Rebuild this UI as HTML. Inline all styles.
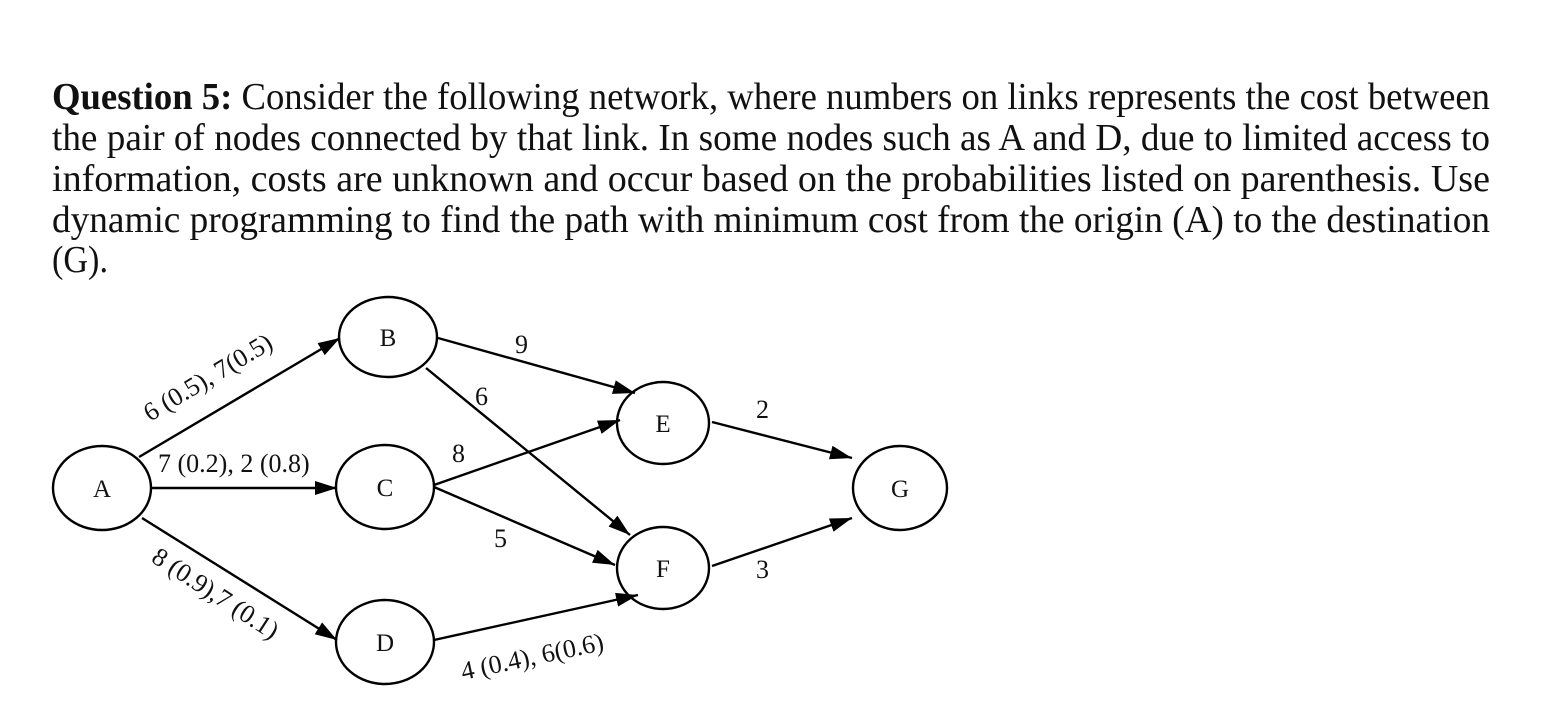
<!DOCTYPE html>
<html><head><meta charset="utf-8"><style>
html,body{margin:0;padding:0;background:#fff;}
svg{display:block;}
text{font-family:"Liberation Serif",serif;fill:#111;}
</style></head><body>
<svg width="1542" height="722" viewBox="0 0 1542 722" xmlns="http://www.w3.org/2000/svg">
<defs>
<marker id="a" viewBox="0 0 10 10" refX="10" refY="5" markerWidth="22" markerHeight="14" orient="auto" markerUnits="userSpaceOnUse" preserveAspectRatio="none">
<path d="M0,0 L10,5 L0,10 z" fill="#000"/>
</marker>
</defs>
<g font-size="38">
<text x="52" y="109" textLength="1438" lengthAdjust="spacingAndGlyphs"><tspan font-weight="bold">Question 5:</tspan> Consider the following network, where numbers on links represents the cost between</text>
<text x="52" y="150" textLength="1438" lengthAdjust="spacingAndGlyphs">the pair of nodes connected by that link. In some nodes such as A and D, due to limited access to</text>
<text x="52" y="191" textLength="1438" lengthAdjust="spacingAndGlyphs">information, costs are unknown and occur based on the probabilities listed on parenthesis.  Use</text>
<text x="52" y="232" textLength="1438" lengthAdjust="spacingAndGlyphs">dynamic programming to find the path with minimum cost from the origin (A) to the destination</text>
<text x="52" y="272" textLength="56" lengthAdjust="spacingAndGlyphs">(G).</text>
</g>
<g fill="none" stroke="#000" stroke-width="2.4">
<ellipse cx="102" cy="488" rx="49" ry="42"/>
<ellipse cx="388" cy="337" rx="49" ry="40"/>
<ellipse cx="385" cy="487" rx="49" ry="42"/>
<ellipse cx="385" cy="642" rx="49" ry="42"/>
<ellipse cx="663" cy="423" rx="46" ry="41"/>
<ellipse cx="663" cy="568" rx="46" ry="41"/>
<ellipse cx="900" cy="488" rx="47" ry="42"/>
</g>
<g stroke="#000" stroke-width="2.4" marker-end="url(#a)">
<line x1="139" y1="457" x2="340" y2="338"/>
<line x1="152" y1="488" x2="337" y2="488"/>
<line x1="142" y1="518" x2="337" y2="640"/>
<line x1="438" y1="338" x2="635" y2="393"/>
<line x1="426" y1="368" x2="630" y2="535"/>
<line x1="434" y1="485" x2="620" y2="420"/>
<line x1="434" y1="487" x2="615" y2="565"/>
<line x1="434" y1="640" x2="638" y2="595"/>
<line x1="712" y1="422" x2="852" y2="458"/>
<line x1="712" y1="566" x2="852" y2="518"/>
</g>
<g font-size="25" text-anchor="middle">
<text x="102" y="497">A</text>
<text x="388" y="346">B</text>
<text x="385" y="496">C</text>
<text x="385" y="651">D</text>
<text x="663" y="432">E</text>
<text x="663" y="577">F</text>
<text x="900" y="497">G</text>
</g>
<g font-size="26">
<text x="0" y="0" transform="translate(150,422) rotate(-31)">6 (0.5), 7(0.5)</text>
<text x="158" y="472">7 (0.2), 2 (0.8)</text>
<text x="0" y="0" transform="translate(150,561) rotate(33)">8 (0.9),7 (0.1)</text>
<text x="0" y="0" transform="translate(463,680) rotate(-12)">4 (0.4), 6(0.6)</text>
<text x="515" y="353">9</text>
<text x="475" y="405">6</text>
<text x="452" y="462">8</text>
<text x="494" y="547">5</text>
<text x="756" y="418">2</text>
<text x="756" y="578">3</text>
</g>
</svg>
</body></html>
